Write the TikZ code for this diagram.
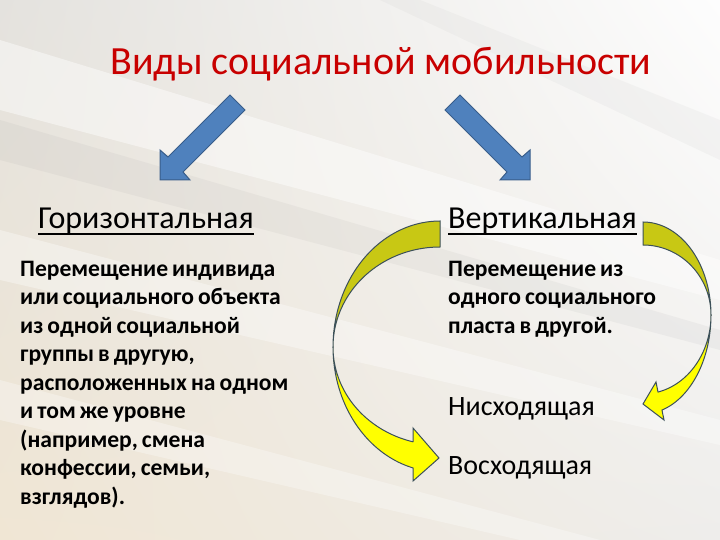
\documentclass[tikz,border=0pt]{standalone}
\usepackage{fontspec}
\setmainfont{Carlito}
\usetikzlibrary{shadings}
\definecolor{titlered}{RGB}{200,0,0}
\definecolor{arrowblue}{RGB}{79,129,189}
\definecolor{arrowedge}{RGB}{56,93,138}
\definecolor{ydark}{RGB}{200,200,20}
\definecolor{ylight}{RGB}{255,255,0}
\definecolor{yedge}{RGB}{60,80,90}
\definecolor{bgul}{RGB}{228,226,222}
\definecolor{bgur}{RGB}{253,253,253}
\definecolor{bgll}{RGB}{240,230,212}
\definecolor{bglr}{RGB}{238,237,235}
\newcommand\tightwords{\spaceskip=0.17em plus 0.05em minus 0.02em\relax}
\begin{document}
\begin{tikzpicture}[x=1pt,y=-1pt,
  titletext/.style={font=\fontsize{40}{48}\selectfont, text=titlered, anchor=base, inner sep=0},
  headtext/.style={font=\fontsize{32}{38}\selectfont, anchor=base west, inner sep=0},
  bodytext/.style={font=\bfseries\fontsize{23.6}{28.5}\selectfont\tightwords, anchor=north west, align=left, inner sep=0},
  kindtext/.style={font=\fontsize{28}{34}\selectfont, anchor=base west, inner sep=0},
  ulined/.style={line width=1.6pt},
  bluearrow/.style={fill=arrowblue, draw=arrowedge, line width=1pt, line join=miter},
  yback/.style={fill=ydark, draw=yedge, line width=1pt, line join=miter},
  yfront/.style={fill=ylight, draw=yedge, line width=1pt, line join=miter}]
\useasboundingbox (0,0) rectangle (720,540);
% background
\shade[upper left=bgul, upper right=bgur, lower left=bgll, lower right=bglr] (0,0) rectangle (720,540);
\fill[white, opacity=.45] (0,40) -- (720,260) -- (720,300) -- (0,110) -- cycle;
\fill[gray, opacity=.07] (0,120) -- (720,330) -- (720,350) -- (0,160) -- cycle;
\fill[white, opacity=.35] (0,230) -- (720,420) -- (720,445) -- (0,280) -- cycle;
\fill[white, opacity=.30] (0,380) -- (600,540) -- (520,540) -- (0,420) -- cycle;
\fill[gray, opacity=.05] (420,0) -- (720,120) -- (720,160) -- (380,0) -- cycle;

% title
\node[titletext] (title) at (381,75) {Виды социальной мобильности};

% blue arrows
\draw[bluearrow] (230,95) -- (245,110) -- (183,172) -- (190,180) -- (160,180) -- (160,150) -- (168,157) -- cycle;
\draw[bluearrow] (460,95) -- (445,110) -- (507,172) -- (500,180) -- (530,180) -- (530,150) -- (522,157) -- cycle;

% headings
\node[headtext] (hor) at (38,229) {Горизонтальная};
\draw[ulined] ([yshift=-5pt]hor.base west) -- ([yshift=-5pt]hor.base east);
\node[headtext] (ver) at (448,229) {Вертикальная};
\draw[ulined] ([yshift=-5pt]ver.base west) -- ([yshift=-5pt]ver.base east);

% bodies
\node[bodytext] (hbody) at (20,260.5) {Перемещение индивида\\или социального объекта\\из одной социальной\\группы в другую,\\расположенных на одном\\и том же уровне\\(например, смена\\конфессии, семьи,\\взглядов).};
\node[bodytext] (vbody) at (448,260.5) {Перемещение из\\одного социального\\пласта в другой.};

\node[kindtext] (down) at (448,415) {Нисходящая};
\node[kindtext] (up) at (448,474) {Восходящая};

% left curved arrow
\draw[yback] plot[domain=90:0, samples=40] ({440-107*cos(\x)},{347-126*sin(\x)})
  -- plot[domain=0:90, samples=40] ({440-107*cos(\x)},{347-100*sin(\x)}) -- cycle;
\draw[yfront] plot[domain=0:75.4, samples=40] ({440-107*cos(\x)},{347+125*sin(\x)})
  -- (413,481) -- (439,458) -- (413,428) -- (413,442)
  -- plot[domain=75.4:0, samples=40] ({440-107*cos(\x)},{347+98*sin(\x)}) -- cycle;

% right curved arrow
\draw[yback] plot[domain=90:0, samples=40] ({643+68*cos(\x)},{315-93*sin(\x)})
  -- plot[domain=0:90, samples=40] ({643+68*cos(\x)},{315-70*sin(\x)}) -- cycle;
\draw[yfront] plot[domain=0:73.8, samples=40] ({643+68*cos(\x)},{315+99*sin(\x)})
  -- (664,420) -- (643,404) -- (656,382) -- (658,392)
  -- plot[domain=77.2:0, samples=40] ({643+68*cos(\x)},{315+79*sin(\x)}) -- cycle;
\end{tikzpicture}
\end{document}
